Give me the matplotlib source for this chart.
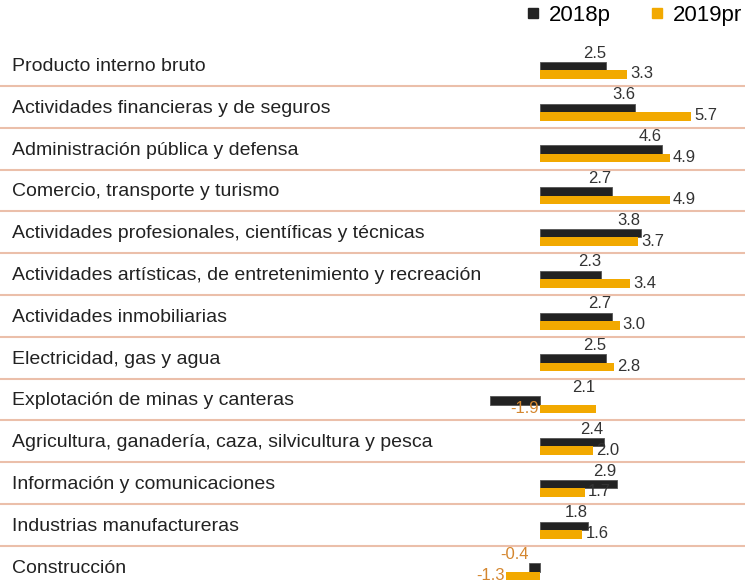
import matplotlib
matplotlib.use("Agg")
import matplotlib.pyplot as plt
from matplotlib.lines import Line2D
import numpy as np

# %% data
categories = [
    "Producto interno bruto",
    "Actividades financieras y de seguros",
    "Administración pública y defensa",
    "Comercio, transporte y turismo",
    "Actividades profesionales, científicas y técnicas",
    "Actividades artísticas, de entretenimiento y recreación",
    "Actividades inmobiliarias",
    "Electricidad, gas y agua",
    "Explotación de minas y canteras",
    "Agricultura, ganadería, caza, silvicultura y pesca",
    "Información y comunicaciones",
    "Industrias manufactureras",
    "Construcción",
]
v2018 = [2.5, 3.6, 4.6, 2.7, 3.8, 2.3, 2.7, 2.5, -1.9, 2.4, 2.9, 1.8, -0.4]
v2019 = [3.3, 5.7, 4.9, 4.9, 3.7, 3.4, 3.0, 2.8, 2.1, 2.0, 1.7, 1.6, -1.3]
series_names = ["2018p", "2019pr"]

# %% style
BLACK = "#222222"
ORANGE = "#F2A900"
NEG = "#D4862E"
SEP = "#EBBFAA"
TXT = "#222222"
plt.rcParams["font.family"] = ["Liberation Sans", "DejaVu Sans"]

W, H = 745, 582
px_per_unit = 26.5
zero_px = 540.0
row0_px = 65.0
row_px = 41.8

fig = plt.figure(figsize=(W / 100, H / 100), dpi=100)
ax = fig.add_axes([0, 0, 1, 1])
ax.set_xlim(-zero_px / px_per_unit, (W - zero_px) / px_per_unit)
ax.set_ylim((H - row0_px) / row_px, -row0_px / row_px)
ax.axis("off")

y = np.arange(len(categories))
bh = 8.5 / row_px
off_b = 1.0 / row_px
off_o = 9.5 / row_px
up = -12.0 / row_px
low = 9.0 / row_px
pad = 3.0 / px_per_unit

ax.barh(y + off_b, v2018, height=bh, color=BLACK, edgecolor="#555555", linewidth=0.6)
ax.barh(y + off_o, v2019, height=bh, color=ORANGE, linewidth=0)

for i in range(len(categories)):
    ax.text(-zero_px / px_per_unit + 12 / px_per_unit, i + 1.5 / row_px, categories[i],
            fontsize=14, color=TXT, va="center", ha="left")

    a, b = v2018[i], v2019[i]
    swap = a < 0 < b
    for val, level in ((a, low if swap else up), (b, up if swap else low)):
        col = NEG if val < 0 else "#333333"
        s = f"{val:.1f}"
        if val < 0:
            xend = 0 if swap else val
            ax.text(xend - pad * 0.3, i + level, s, fontsize=12, color=col,
                    ha="right", va="center")
        elif level == up:
            ax.text(val, i + level, s, fontsize=12, color=col, ha="right", va="center")
        else:
            ax.text(val + pad, i + level, s, fontsize=12, color=col, ha="left", va="center")

for i in range(len(categories) - 1):
    ax.axhline(i + 0.5, color=SEP, lw=1.5)

handles = [Line2D([], [], marker="s", linestyle="none", color=c, markersize=7)
           for c in (BLACK, ORANGE)]
ax.legend(handles, series_names, loc="upper right", bbox_to_anchor=(742 / W, 1 - 5 / H),
          ncol=2, frameon=False, fontsize=16, handlelength=0.6, handletextpad=0.4,
          columnspacing=1.8, borderpad=0, borderaxespad=0)

fig.savefig("out.png", dpi=100)
